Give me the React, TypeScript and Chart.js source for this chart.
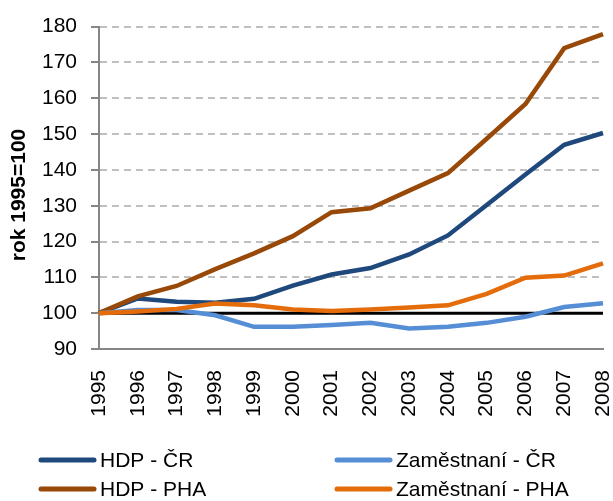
import React, { useEffect, useRef } from "react";
import { Chart, registerables } from "chart.js";

Chart.register(...registerables);

const years = ["1995", "1996", "1997", "1998", "1999", "2000", "2001", "2002", "2003", "2004", "2005", "2006", "2007", "2008"];
const hdpCR = [100, 104.1, 103.2, 102.9, 104.0, 107.7, 110.8, 112.6, 116.4, 121.7, 130.2, 138.7, 147.0, 150.3];
const zamCR = [100, 100.9, 100.9, 99.4, 96.2, 96.2, 96.7, 97.3, 95.7, 96.2, 97.3, 99.0, 101.7, 102.8];
const hdpPHA = [100, 104.7, 107.6, 112.3, 116.7, 121.5, 128.2, 129.3, 134.2, 139.1, 148.7, 158.4, 174.0, 177.9];
const zamPHA = [100, 100.5, 101.2, 102.7, 102.2, 101.0, 100.6, 101.0, 101.6, 102.2, 105.4, 109.9, 110.5, 113.9];
const baseline = [100, 100, 100, 100, 100, 100, 100, 100, 100, 100, 100, 100, 100, 100];

const seriesNames = ["HDP - ČR", "Zaměstnaní - ČR", "HDP - PHA", "Zaměstnaní - PHA"];
const colors = ["#1F497D", "#558ED5", "#984807", "#E46C0A"];
const yTitle = "rok 1995=100";

const FONT = "'Liberation Sans', Arial, sans-serif";

const legendPlugin = {
  id: "customLegend",
  afterDraw(chart: any) {
    const ctx = chart.ctx;
    const cols = [39, 335];
    const rows = [460, 489];
    ctx.save();
    ctx.font = `21px ${FONT}`;
    ctx.textBaseline = "middle";
    ctx.textAlign = "left";
    for (let i = 0; i < 4; i++) {
      const ds = chart.data.datasets[i];
      const x = cols[i % 2];
      const y = rows[Math.floor(i / 2)];
      ctx.strokeStyle = ds.borderColor;
      ctx.lineWidth = 5;
      ctx.lineCap = "round";
      ctx.beginPath();
      ctx.moveTo(x + 2, y);
      ctx.lineTo(x + 55, y);
      ctx.stroke();
      ctx.fillStyle = "#000";
      ctx.fillText(ds.label, x + 61, y + 1);
    }
    // y-axis title
    ctx.translate(19, 195);
    ctx.rotate(-Math.PI / 2);
    ctx.font = `bold 21px ${FONT}`;
    ctx.textAlign = "center";
    ctx.textBaseline = "middle";
    ctx.fillStyle = "#000";
    ctx.fillText(yTitle, 0, 0);
    ctx.restore();
  },
};

export default function App() {
  const ref = useRef<HTMLCanvasElement>(null);
  useEffect(() => {
    if (!ref.current) return;
    Chart.defaults.font.family = FONT;
    Chart.defaults.font.size = 21;
    const mk = (label: string, data: number[], color: string, order: number, w = 4.5) => ({
      label,
      data,
      borderColor: color,
      backgroundColor: color,
      borderWidth: w,
      pointRadius: 0,
      tension: 0,
      fill: false,
      order,
    });
    const chart = new Chart(ref.current, {
      type: "line",
      data: {
        labels: years,
        datasets: [
          mk(seriesNames[0], hdpCR, colors[0], 3),
          mk(seriesNames[1], zamCR, colors[1], 1),
          mk(seriesNames[2], hdpPHA, colors[2], 2),
          mk(seriesNames[3], zamPHA, colors[3], 0),
          mk("base", baseline, "#000000", 4, 3),
        ],
      },
      options: {
        responsive: false,
        animation: false,
        layout: { padding: { left: 0, top: 23, right: 10, bottom: 80 } },
        plugins: { legend: { display: false }, tooltip: { enabled: false } },
        scales: {
          x: {
            offset: false,
            grid: { display: false, drawTicks: false },
            border: { display: true, color: "#868686", width: 2 },
            ticks: {
              autoSkip: false,
              maxRotation: 90,
              minRotation: 90,
              padding: 21,
              color: "#000",
              font: { size: 21, family: FONT },
            },
            afterFit: (s: any) => {
              s.height = 72;
              s.paddingLeft = 0;
              s.paddingRight = 0;
            },
          },
          y: {
            min: 90,
            max: 180,
            ticks: { stepSize: 10, padding: 14, color: "#000", font: { size: 21, family: FONT } },
            grid: {
              color: (c: any) => (c.tick && c.tick.value === 90 ? "rgba(0,0,0,0)" : "#BFBFBF"),
              lineWidth: 2,
              tickLength: 8,
              tickColor: "#868686",
              tickWidth: 2,
              tickBorderDash: [],
            },
            border: { display: true, color: "#868686", width: 2, dash: [7, 5] },
            title: { display: false },
            afterFit: (s: any) => {
              s.width = 99;
            },
          },
        },
      },
      plugins: [legendPlugin],
    } as any);
    return () => chart.destroy();
  }, []);
  return (
    <div style={{ position: "absolute", left: 0, top: 0, width: 613, height: 501, background: "#fff" }}>
      <canvas ref={ref} width={613} height={501} style={{ display: "block" }} />
    </div>
  );
}
